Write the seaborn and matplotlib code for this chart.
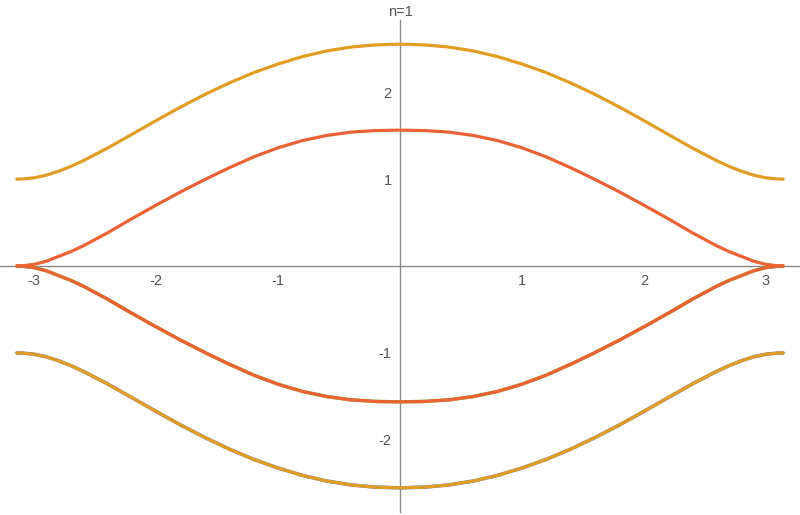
import numpy as np
import pandas as pd
import matplotlib
matplotlib.use("Agg")
import matplotlib.pyplot as plt
import seaborn as sns
from matplotlib.ticker import FixedLocator

# ---- data ----
k = [-3.1416, -3.1, -3.0, -2.9, -2.8, -2.7, -2.6, -2.4, -2.2, -2.0, -1.8, -1.6, -1.4,
     -1.2, -1.0, -0.8, -0.6, -0.4, -0.2, 0.0, 0.2, 0.4, 0.6, 0.8, 1.0, 1.2, 1.4, 1.6,
     1.8, 2.0, 2.2, 2.4, 2.6, 2.7, 2.8, 2.9, 3.0, 3.1, 3.1416]
upper_outer = [1.000, 1.001, 1.015, 1.045, 1.090, 1.145, 1.210, 1.355, 1.513, 1.673,
               1.828, 1.973, 2.106, 2.224, 2.324, 2.409, 2.474, 2.519, 2.544, 2.552,
               2.544, 2.519, 2.474, 2.409, 2.324, 2.224, 2.106, 1.973, 1.828, 1.673,
               1.513, 1.355, 1.210, 1.145, 1.090, 1.045, 1.015, 1.001, 1.000]
upper_inner = [0.000, 0.002, 0.019, 0.055, 0.110, 0.165, 0.230, 0.380, 0.543, 0.700,
               0.852, 0.995, 1.130, 1.255, 1.360, 1.443, 1.502, 1.540, 1.558, 1.563,
               1.558, 1.540, 1.502, 1.443, 1.360, 1.255, 1.130, 0.995, 0.852, 0.700,
               0.543, 0.380, 0.230, 0.165, 0.110, 0.055, 0.019, 0.002, 0.000]
lower_inner = [-0.000, -0.002, -0.019, -0.055, -0.110, -0.165, -0.230, -0.380, -0.543, -0.700,
               -0.852, -0.995, -1.130, -1.255, -1.360, -1.443, -1.502, -1.540, -1.558, -1.563,
               -1.558, -1.540, -1.502, -1.443, -1.360, -1.255, -1.130, -0.995, -0.852, -0.700,
               -0.543, -0.380, -0.230, -0.165, -0.110, -0.055, -0.019, -0.002, -0.000]
lower_outer = [-1.000, -1.001, -1.015, -1.045, -1.090, -1.145, -1.210, -1.355, -1.513, -1.673,
               -1.828, -1.973, -2.106, -2.224, -2.324, -2.409, -2.474, -2.519, -2.544, -2.552,
               -2.544, -2.519, -2.474, -2.409, -2.324, -2.224, -2.106, -1.973, -1.828, -1.673,
               -1.513, -1.355, -1.210, -1.145, -1.090, -1.045, -1.015, -1.001, -1.000]

x_major = [-3, -2, -1, 1, 2, 3]
y_major = [-2, -1, 1, 2]
title = "n=1"

# ---- build long-form table ----
bands = [
    ("b1", lower_outer, "#5E81B5"),
    ("b3", lower_inner, "#8FB032"),
    ("b2u", upper_outer, "#E19C24"),
    ("b2l", lower_outer, "#E19C24"),
    ("b4u", upper_inner, "#EB6235"),
    ("b4l", lower_inner, "#EB6235"),
]
rows = []
for name, vals, _ in bands:
    for kk, v in zip(k, vals):
        rows.append({"k": kk, "E": v, "band": name})
df = pd.DataFrame(rows)
order = [b[0] for b in bands]
pal = {b[0]: b[2] for b in bands}

sns.set_style("white")
plt.rcParams["font.family"] = ["Liberation Sans", "DejaVu Sans"]
plt.rcParams["axes.unicode_minus"] = False

fig = plt.figure(figsize=(8, 5.15), dpi=100)
ax = fig.add_axes([0.0, 3 / 515, 1.0, 492 / 515])

sns.lineplot(data=df, x="k", y="E", hue="band", hue_order=order, palette=pal,
             sort=False, estimator=None, legend=False, linewidth=2.3, ax=ax)
for line in ax.lines:
    line.set_solid_joinstyle("round")
    line.set_solid_capstyle("round")
for line in ax.lines[:2]:
    line.set_linewidth(2.5)

ax.set_xlim(-3.28, 3.28)
ax.set_ylim(-2.83, 2.83)
ax.set_xlabel("")
ax.set_ylabel("")

axis_col = "#8a8a8a"
for s in ["top", "right"]:
    ax.spines[s].set_visible(False)
ax.spines["left"].set_position(("data", 0))
ax.spines["bottom"].set_position(("data", 0))
for s in ["left", "bottom"]:
    ax.spines[s].set_color(axis_col)
    ax.spines[s].set_linewidth(1.0)
    ax.spines[s].set_zorder(1)

ax.xaxis.set_major_locator(FixedLocator(x_major))
ax.yaxis.set_major_locator(FixedLocator(y_major))
ax.xaxis.set_minor_locator(FixedLocator([v / 5 for v in range(-16, 17) if v % 5 != 0]))
ax.yaxis.set_minor_locator(FixedLocator([v / 5 for v in range(-14, 15) if v % 5 != 0]))
ax.set_xticklabels([str(v) for v in x_major])
ax.set_yticklabels([str(v) for v in y_major])

ax.tick_params(axis="both", which="major", direction="in", length=3.5, width=0.8,
               color=axis_col, labelsize=10.5, labelcolor="#555555", pad=4)
ax.tick_params(axis="both", which="minor", direction="in", length=2.0, width=0.6,
               color=axis_col)
ax.tick_params(axis="x", which="major", pad=6)
ax.tick_params(axis="y", which="major", pad=6)

fig.text(0.5, 1 - 12 / 515, title, ha="center", va="center", fontsize=10.5, color="#555555")

fig.savefig("out.png", dpi=100, facecolor="white")
